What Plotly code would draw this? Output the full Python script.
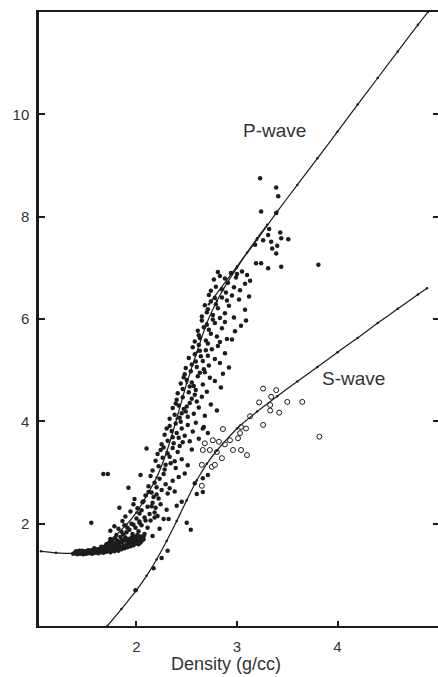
import plotly.graph_objects as go

# ---------------- data ----------------
# P-wave reference curve (Nafe-Drake type)
p_curve_rho = [1.05, 1.2, 1.4, 1.6, 1.75, 1.9, 2.0, 2.1, 2.2, 2.3, 2.4, 2.5, 2.6, 2.7, 2.8, 2.9, 3.0, 3.1, 3.2, 3.3]
p_curve_vp = [1.46, 1.43, 1.42, 1.46, 1.70, 1.98, 2.22, 2.54, 2.90, 3.40, 4.05, 4.75, 5.35, 5.92, 6.35, 6.70, 7.00, 7.30, 7.58, 7.84]

# P-wave straight high-density line
p_line_rho = [2.72, 3.0, 3.2, 3.4, 3.6, 3.8, 4.0, 4.2, 4.4, 4.6, 4.8, 4.90]
p_line_vp = [6.29, 7.03, 7.55, 8.10, 8.62, 9.14, 9.66, 10.19, 10.71, 11.23, 11.75, 12.0]

# S-wave curve
s_curve_rho = [1.71, 1.85, 2.0, 2.1, 2.2, 2.3, 2.4, 2.5, 2.6, 2.7, 2.8, 3.0, 3.2, 3.4, 3.6, 3.8, 4.0, 4.2, 4.4, 4.6, 4.8, 4.89]
s_curve_vs = [0.0, 0.33, 0.70, 0.98, 1.30, 1.66, 2.05, 2.46, 2.85, 3.17, 3.43, 3.86, 4.19, 4.49, 4.78, 5.06, 5.35, 5.63, 5.92, 6.20, 6.48, 6.60]

# P-wave measurements: sediment band
p_sediment = [
    (1.37, 1.41), (1.39, 1.44), (1.41, 1.40), (1.42, 1.43), (1.44, 1.41), (1.45, 1.44), (1.47, 1.40), (1.48, 1.43),
    (1.50, 1.41), (1.51, 1.45), (1.53, 1.42), (1.54, 1.44), (1.56, 1.41), (1.57, 1.46), (1.59, 1.43), (1.60, 1.45),
    (1.62, 1.42), (1.63, 1.47), (1.64, 1.44), (1.66, 1.46), (1.67, 1.43), (1.68, 1.49), (1.70, 1.45), (1.71, 1.51),
    (1.72, 1.47), (1.74, 1.44), (1.75, 1.52), (1.76, 1.48), (1.77, 1.56), (1.78, 1.46), (1.79, 1.50), (1.80, 1.58),
    (1.81, 1.53), (1.82, 1.47), (1.83, 1.61), (1.84, 1.55), (1.85, 1.50), (1.86, 1.64), (1.87, 1.57), (1.88, 1.52),
    (1.89, 1.67), (1.90, 1.59), (1.91, 1.54), (1.92, 1.70), (1.93, 1.62), (1.94, 1.56), (1.95, 1.73), (1.96, 1.64),
    (1.97, 1.58), (1.98, 1.69), (1.99, 1.61), (2.00, 1.72), (2.01, 1.65), (2.02, 1.60), (2.03, 1.70), (2.04, 1.75),
    (2.05, 1.66), (2.06, 1.72), (2.07, 1.69),
    (1.58, 1.52), (1.65, 1.55), (1.70, 1.60), (1.73, 1.63), (1.76, 1.67), (1.79, 1.71), (1.81, 1.66), (1.84, 1.74),
    (1.87, 1.79), (1.90, 1.83), (1.93, 1.88), (1.96, 1.80), (1.99, 1.92), (2.02, 1.85), (2.05, 1.97), (2.08, 1.80),
    (2.11, 1.92), (2.16, 1.76), (2.23, 1.90), (2.32, 2.09),
    (1.40, 1.46), (1.43, 1.47), (1.46, 1.47), (1.49, 1.46), (1.52, 1.48), (1.55, 1.48), (1.58, 1.49), (1.61, 1.50),
    (1.64, 1.51), (1.67, 1.53), (1.69, 1.56), (1.72, 1.57), (1.75, 1.60), (1.78, 1.61), (1.81, 1.62), (1.84, 1.65),
    (1.86, 1.68), (1.89, 1.73), (1.92, 1.64), (1.95, 1.67), (1.98, 1.75), (2.01, 1.78), (2.04, 1.63), (2.07, 1.75),
    (1.74, 1.70), (1.80, 1.78), (1.85, 1.84), (1.91, 1.92), (1.97, 1.98), (2.03, 2.02), (1.88, 1.97), (1.82, 1.90),
]

p_sediment_upper = [
    (1.55, 2.02), (1.67, 2.97), (1.715, 2.97), (1.74, 1.86), (1.78, 1.95), (1.83, 2.31), (1.86, 2.05), (1.89, 2.14),
    (1.92, 2.70), (1.94, 2.24), (1.97, 2.38), (2.00, 2.10), (2.04, 2.95), (2.10, 3.47), (1.95, 2.00), (1.98, 2.48),
    (2.01, 2.30), (2.03, 2.20), (2.06, 2.42), (2.09, 2.06), (2.12, 2.62), (2.15, 2.34), (2.18, 2.12),
]

# P-wave measurements: main rock band
p_main = [
    (2.03, 2.04), (2.08, 2.12), (2.14, 2.06), (2.21, 2.15), (2.27, 2.09), (2.05, 2.26), (2.11, 2.33), (2.18, 2.22),
    (2.24, 2.38), (2.30, 2.27), (2.07, 2.44), (2.16, 2.41), (2.22, 2.49), (2.13, 2.19), (2.19, 2.31),
    (2.09, 2.55), (2.15, 2.61), (2.12, 2.73), (2.20, 2.57), (2.25, 2.66), (2.31, 2.59), (2.18, 2.80), (2.23, 2.88),
    (2.29, 2.77), (2.36, 2.84), (2.14, 2.93), (2.27, 2.97), (2.33, 2.69), (2.42, 2.91), (2.20, 2.71), (2.38, 2.63),
    (2.17, 2.52), (2.48, 2.98),
    (2.16, 3.04), (2.22, 3.12), (2.28, 3.06), (2.34, 3.18), (2.19, 3.23), (2.26, 3.29), (2.31, 3.37), (2.39, 3.09),
    (2.45, 3.26), (2.24, 3.44), (2.36, 3.48), (2.29, 3.15), (2.41, 3.40), (2.51, 3.14), (2.33, 3.31), (2.21, 3.36),
    (2.55, 3.45), (2.38, 3.22), (2.27, 3.49),
    (2.25, 3.55), (2.31, 3.62), (2.37, 3.57), (2.42, 3.68), (2.28, 3.74), (2.35, 3.81), (2.40, 3.77), (2.46, 3.59),
    (2.33, 3.91), (2.39, 3.96), (2.45, 3.86), (2.51, 3.93), (2.48, 3.72), (2.56, 3.80), (2.62, 3.66), (2.43, 3.52),
    (2.30, 3.86), (2.53, 3.61), (2.67, 3.89), (2.36, 3.69), (2.44, 3.99), (2.59, 3.97),
    (2.33, 4.05), (2.38, 4.13), (2.43, 4.07), (2.49, 4.19), (2.36, 4.26), (2.42, 4.31), (2.47, 4.24), (2.53, 4.36),
    (2.40, 4.42), (2.46, 4.47), (2.51, 4.09), (2.57, 4.15), (2.62, 4.27), (2.55, 4.44), (2.68, 4.11), (2.74, 4.33),
    (2.45, 4.16), (2.60, 4.39), (2.50, 4.29), (2.39, 4.35), (2.80, 4.21), (2.65, 4.48),
    (2.41, 4.55), (2.46, 4.63), (2.52, 4.57), (2.57, 4.69), (2.44, 4.74), (2.50, 4.81), (2.55, 4.76), (2.61, 4.88),
    (2.48, 4.92), (2.54, 4.98), (2.59, 4.61), (2.66, 4.72), (2.70, 4.58), (2.63, 4.95), (2.73, 4.85), (2.84, 4.66),
    (2.47, 4.86), (2.58, 4.52), (2.68, 4.96), (2.78, 4.79), (2.53, 4.68), (2.86, 4.93),
    (2.49, 5.04), (2.55, 5.11), (2.60, 5.06), (2.66, 5.18), (2.52, 5.24), (2.58, 5.31), (2.64, 5.27), (2.69, 5.39),
    (2.56, 5.45), (2.62, 5.49), (2.72, 5.09), (2.78, 5.22), (2.75, 5.41), (2.83, 5.14), (2.88, 5.33), (2.67, 5.02),
    (2.81, 5.47), (2.59, 5.17), (2.71, 5.28), (2.92, 5.05), (2.63, 5.38),
    (2.58, 5.56), (2.63, 5.63), (2.69, 5.58), (2.74, 5.71), (2.61, 5.77), (2.67, 5.84), (2.72, 5.79), (2.78, 5.92),
    (2.65, 5.97), (2.71, 5.52), (2.80, 5.66), (2.85, 5.82), (2.76, 5.99), (2.90, 5.61), (2.95, 5.60), (2.83, 5.55),
    (2.70, 5.89), (2.88, 5.94), (2.98, 5.76), (2.62, 5.68), (3.04, 5.87),
    (2.65, 6.05), (2.70, 6.13), (2.76, 6.08), (2.81, 6.21), (2.68, 6.27), (2.74, 6.34), (2.79, 6.29), (2.85, 6.42),
    (2.72, 6.47), (2.88, 6.11), (2.92, 6.26), (2.97, 6.03), (3.02, 6.38), (2.83, 6.02), (2.95, 6.46), (3.09, 5.97),
    (3.08, 6.18), (2.78, 6.41), (2.90, 6.36), (3.12, 6.44), (2.71, 6.19),
    (2.74, 6.55), (2.79, 6.63), (2.85, 6.58), (2.91, 6.71), (2.77, 6.77), (2.83, 6.84), (2.88, 6.79), (2.94, 6.90),
    (3.00, 6.88), (3.05, 6.93), (3.10, 6.86), (2.97, 6.62), (3.03, 6.56), (3.08, 6.69), (2.81, 6.92), (3.13, 6.75),
    (2.89, 6.52), (2.99, 6.81),
]

# P-wave measurements: high-density scatter
p_high = [
    (3.23, 8.75), (3.39, 8.57), (3.41, 8.40), (3.24, 8.10), (3.39, 8.07), (3.32, 7.76), (3.43, 7.69), (3.51, 7.56),
    (3.44, 7.58), (3.31, 7.64), (3.26, 7.54), (3.34, 7.51), (3.40, 7.43), (3.35, 7.38), (3.39, 7.28), (3.18, 7.45),
    (3.19, 7.09), (3.24, 7.09), (3.31, 6.99), (3.44, 7.02), (3.81, 7.06),
]

# S-wave measurements (filled)
s_filled = [
    (1.99, 0.70), (2.17, 1.13), (2.25, 1.33), (2.31, 1.47), (2.40, 2.35), (2.45, 2.43), (2.50, 2.02), (2.54, 1.88),
    (2.58, 2.79), (2.60, 2.58), (2.66, 2.62), (2.66, 2.89), (2.71, 2.95), (2.66, 3.86), (2.71, 3.77),
]

# S-wave measurements (open)
s_open = [
    (3.26, 4.64), (3.39, 4.61), (3.22, 4.37), (3.34, 4.48), (3.33, 4.32), (3.33, 4.21), (3.42, 4.17), (3.50, 4.38),
    (3.65, 4.38), (3.26, 3.93), (3.13, 4.10), (2.86, 3.85), (3.04, 3.89), (3.09, 3.86), (3.03, 3.77), (3.01, 3.67),
    (2.93, 3.63), (2.82, 3.60), (2.76, 3.63), (2.68, 3.57), (2.66, 3.44), (2.73, 3.44), (2.96, 3.44), (3.04, 3.44),
    (3.10, 3.34), (2.85, 3.28), (2.75, 3.11), (2.78, 3.15), (2.65, 3.15), (2.65, 2.74), (3.82, 3.70), (2.88, 3.55),
    (2.80, 3.40),
]

x_ticks = [2, 3, 4]
y_ticks = [2, 4, 6, 8, 10]

# ---------------- figure ----------------
INK = "#1c1c1c"
TXT = "#333333"
FONT = "Liberation Sans, Arial, sans-serif"

fig = go.Figure()

def xs(pts):
    return [p[0] for p in pts]

def ys(pts):
    return [p[1] for p in pts]

filled_groups = [p_sediment, p_sediment_upper, p_main, p_high, s_filled]
for grp in filled_groups:
    fig.add_trace(go.Scatter(x=xs(grp), y=ys(grp), mode="markers",
                             marker=dict(size=4.5, color=INK, line=dict(width=0)),
                             showlegend=False, hoverinfo="skip"))

fig.add_trace(go.Scatter(x=xs(s_open), y=ys(s_open), mode="markers",
                         marker=dict(size=5, color="white", line=dict(width=1, color=INK)),
                         showlegend=False, hoverinfo="skip"))

for cx, cy in [(p_curve_rho, p_curve_vp), (p_line_rho, p_line_vp), (s_curve_rho, s_curve_vs)]:
    fig.add_trace(go.Scatter(x=cx, y=cy, mode="lines+markers",
                             line=dict(color=INK, width=1.2, shape="spline", smoothing=0.4),
                             marker=dict(size=2.5, color=INK),
                             showlegend=False, hoverinfo="skip"))

# invisible trace for right-side tick axis
fig.add_trace(go.Scatter(x=[None], y=[None], yaxis="y2", showlegend=False, hoverinfo="skip"))

fig.add_annotation(text="P-wave", x=3.37, y=9.69, xref="x", yref="y", showarrow=False,
                   font=dict(size=19, color=TXT, family=FONT))
fig.add_annotation(text="S-wave", x=4.155, y=4.84, xref="x", yref="y", showarrow=False,
                   font=dict(size=19, color=TXT, family=FONT))
fig.add_annotation(text="Density (g/cc)", x=2.89, y=0, xref="x", yref="paper", yanchor="top",
                   yshift=-26, showarrow=False, font=dict(size=18, color=TXT, family=FONT))

fig.update_layout(
    width=438, height=677,
    margin=dict(l=39, r=0, t=12, b=51),
    paper_bgcolor="white", plot_bgcolor="white",
    font=dict(family=FONT, color=TXT),
    xaxis=dict(range=[1.03, 5.0], tickvals=x_ticks, ticks="inside", ticklen=5, tickwidth=2,
               tickcolor=INK, showline=True, linecolor=INK, linewidth=2, mirror=True,
               showgrid=False, zeroline=False, tickfont=dict(size=15, color=TXT),
               ticklabelstandoff=6),
    yaxis=dict(range=[0, 12], tickvals=y_ticks, ticks="inside", ticklen=6, tickwidth=2,
               tickcolor=INK, showline=True, linecolor=INK, linewidth=2.5,
               showgrid=False, zeroline=False, tickfont=dict(size=15, color=TXT),
               ticklabelstandoff=4),
    yaxis2=dict(range=[0, 12], overlaying="y", side="right", tickvals=y_ticks, ticks="inside",
                ticklen=5, tickwidth=2, tickcolor=INK, showline=False, showticklabels=False,
                showgrid=False, zeroline=False),
)

fig.write_html("out.html")
